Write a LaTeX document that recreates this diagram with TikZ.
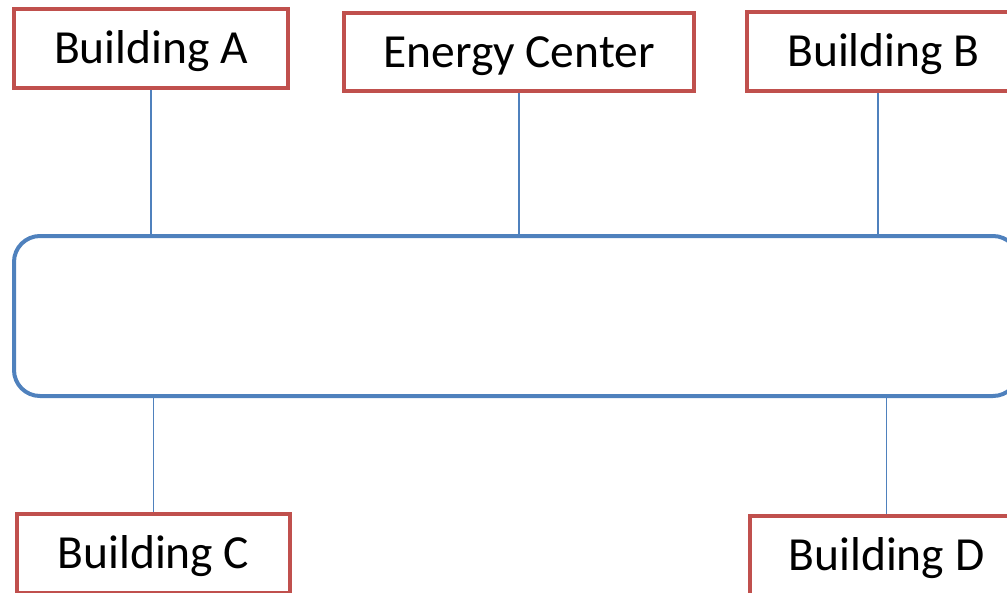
\documentclass[tikz,border=0pt]{standalone}
\usepackage{fontspec}
\setmainfont{Carlito}
\definecolor{boxred}{HTML}{C0504D}
\definecolor{busblue}{HTML}{4F81BD}
\begin{document}
\begin{tikzpicture}[x=1pt,y=-1pt,
  bldg/.style={draw=boxred, line width=4pt, fill=white, minimum height=79pt, inner sep=0pt,
    text height=40pt, text depth=9.5pt,
    font=\fontsize{47.5}{50}\selectfont, text=black},
  link/.style={draw=busblue, line width=1.5pt}]
\useasboundingbox (0,0) rectangle (1007,592);
\node[bldg, minimum width=274pt] (A) at (151,48.5) {Building A};
\node[bldg, minimum width=350pt, minimum height=78pt] (E) at (519,52) {Energy Center};
\node[bldg, minimum width=273pt] (B) at (883.5,51.5) {Building B};
\node[bldg, minimum width=273pt] (C) at (153.5,553.5) {Building C};
\node[bldg, minimum width=273pt] (D) at (886.5,555.5) {Building D};
\node[draw=busblue, line width=4pt, rounded corners=26pt, minimum width=1005pt, minimum height=160pt, inner sep=0pt] (bus) at (516.5,316) {};
\draw[link] (A.south) -- (A.south |- bus.north);
\draw[link] (E.south) -- (E.south |- bus.north);
\draw[link] ([xshift=-5.5pt]B.south) -- ([xshift=-5.5pt]B.south |- bus.north);
\draw[link] (C.north) -- (C.north |- bus.south);
\draw[link] (D.north) -- (D.north |- bus.south);
\end{tikzpicture}
\end{document}
